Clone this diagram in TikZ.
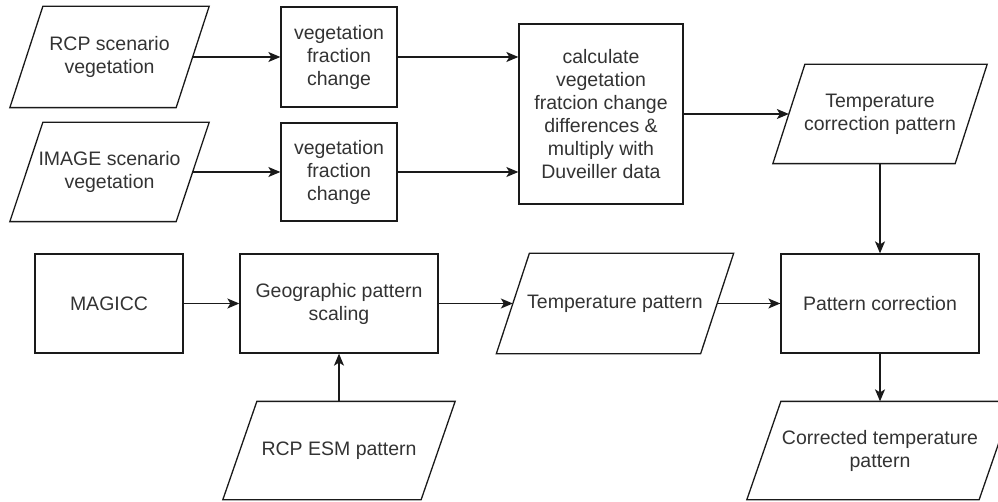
\documentclass[tikz,border=0pt]{standalone}
\usepackage{fontspec}
\setmainfont{Liberation Sans}
\usetikzlibrary{arrows.meta}
\definecolor{txt}{HTML}{333333}
\definecolor{edge}{HTML}{1A1A1A}
\tikzset{
  box/.style={draw=edge, line width=1.3pt, align=center, inner sep=0pt, text=txt,
    font=\fontsize{19.5}{23}\selectfont},
  slant/.style={box, draw=none},
  flow/.style={draw=edge, line width=1.3pt, -{Stealth[length=12pt,width=10pt,inset=3pt]}}
}
% outline of a leaning parallelogram around a named node
\newcommand\slantoutline[2]{%
  \draw[draw=edge, line width=1.3pt] ([xshift=#2]#1.north west) -- ([xshift=#2]#1.north east)
    -- ([xshift=-#2]#1.south east) -- ([xshift=-#2]#1.south west) -- cycle;}
\begin{document}
\begin{tikzpicture}[x=1pt, y=-1pt]
\useasboundingbox (0,0) rectangle (998,502);
\clip (0,0) rectangle (998,502);

% top rows: vegetation inputs
\node[slant, minimum width=165, minimum height=100] (rcp) at (109.5,57) {RCP scenario\\vegetation};
\node[slant, minimum width=165, minimum height=98] (img) at (109.5,172) {IMAGE scenario\\vegetation};
\slantoutline{rcp}{16.5pt}
\slantoutline{img}{16.5pt}

\node[box, minimum width=116, minimum height=100] (vf1) at (339,57) {vegetation\\fraction\\change};
\node[box, minimum width=116, minimum height=98] (vf2) at (339,172) {vegetation\\fraction\\change};

\node[box, minimum width=164, minimum height=180] (calc) at (601,114)
  {calculate\\vegetation\\fratcion change\\differences \&\\multiply with\\Duveiller data};

\node[slant, minimum width=181, minimum height=98] (tcp) at (880,114) {Temperature\\correction pattern};
\slantoutline{tcp}{16pt}

% bottom rows: pattern scaling
\node[box, minimum width=148, minimum height=99] (magicc) at (109,303.5) {MAGICC};
\node[box, minimum width=198, minimum height=99] (geo) at (339,303.5) {Geographic pattern\\scaling};
\node[slant, minimum width=203, minimum height=99] (tp) at (615,303.5) {Temperature pattern};
\slantoutline{tp}{16.5pt}
\node[box, minimum width=198, minimum height=99] (pc) at (880,303.5) {Pattern correction};

\node[slant, minimum width=197, minimum height=97] (esm) at (339,450.5) {RCP ESM pattern};
\slantoutline{esm}{17pt}
\node[slant, minimum width=231, minimum height=97] (ctp) at (880,450.5) {Corrected temperature\\pattern};
\slantoutline{ctp}{17pt}

% connectors
\draw[flow] (rcp) -- (vf1);
\draw[flow] (img) -- (vf2);
\draw[flow] (vf1.east) -- (calc.west |- vf1.east);
\draw[flow] (vf2.east) -- (calc.west |- vf2.east);
\draw[flow] (calc) -- (tcp);
\draw[flow] (tcp) -- (pc);
\draw[flow] (magicc) -- (geo);
\draw[flow] (geo) -- (tp);
\draw[flow] (tp) -- (pc);
\draw[flow] (esm) -- (geo);
\draw[flow] (pc) -- (ctp);
\end{tikzpicture}
\end{document}
